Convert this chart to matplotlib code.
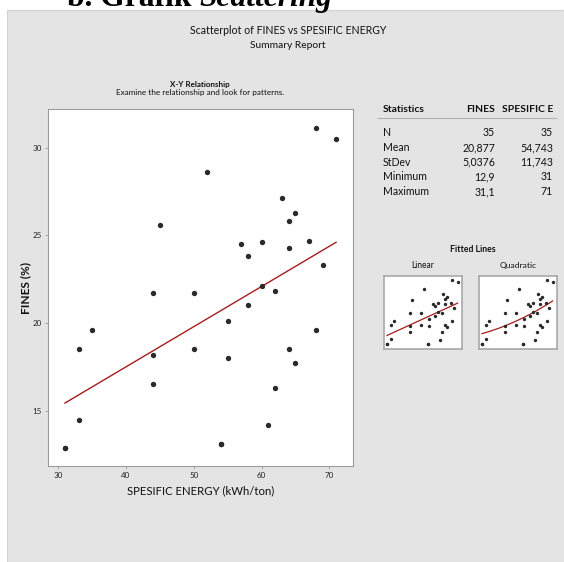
import numpy as np
import matplotlib
matplotlib.use("Agg")
import matplotlib.pyplot as plt
from matplotlib.patches import Rectangle
from matplotlib.lines import Line2D

# data: specific energy (kWh/ton) and fines (%) for 35 samples
energy = [68, 71, 52, 45, 63, 65, 64, 57, 60, 58, 64, 67, 69, 44, 50, 60, 62, 58, 55,
          35, 33, 44, 50, 55, 44, 33, 31, 54, 61, 62, 64, 65, 68, 31, 54]
fines = [31.1, 30.5, 28.6, 25.6, 27.1, 26.3, 25.8, 24.5, 24.6, 23.8, 24.3, 24.7, 23.3, 21.7, 21.7, 22.1, 21.8, 21.0, 20.1,
         19.6, 18.5, 18.2, 18.5, 18.0, 16.5, 14.5, 12.9, 13.1, 14.2, 16.3, 18.5, 17.7, 19.6, 12.9, 13.1]

x_ticks = [30, 40, 50, 60, 70]
y_ticks = [15, 20, 25, 30]
stat_rows = ["N", "Mean", "StDev", "Minimum", "Maximum"]
stat_cols = ["FINES", "SPESIFIC E"]

W, H = 564, 562
plt.rcParams["font.family"] = ["Lato", "DejaVu Sans"]

PANEL = "#e4e4e4"
DOT = "#2a2a2a"
FIT = "#a51c1c"
EDGE = "#9c9c9c"
INK = "#111111"


def box(x0, y0, x1, y1):
    # pixel box (top-left origin) -> figure rect
    return [x0 / W, 1 - y1 / H, (x1 - x0) / W, (y1 - y0) / H]


def fx(x):
    return x / W


def fy(y):
    return 1 - y / H


x = np.array(energy, dtype=float)
y = np.array(fines, dtype=float)

fig = plt.figure(figsize=(W / 100, H / 100), dpi=100)
fig.patch.set_facecolor("white")
r = fig.canvas.get_renderer()


def put(xp, yp, s, width, **kw):
    # place a text and scale its size so it spans `width` pixels
    t = fig.text(fx(xp), fy(yp), s, fontsize=10, color=INK, **kw)
    w = t.get_window_extent(renderer=r).width
    t.set_fontsize(10 * width / w)
    return t


# grey report panel
fig.patches.append(Rectangle((fx(7), fy(562)), fx(W) - fx(7), fy(10) - fy(562),
                             transform=fig.transFigure, facecolor=PANEL,
                             edgecolor="#d2d2d2", lw=0.8, zorder=-1))

# heading above the panel
t1 = fig.text(fx(67), fy(6), "b. Grafik ", family="Liberation Serif", weight="bold",
              fontsize=22.7, va="baseline", ha="left", zorder=5)
bb = t1.get_window_extent(renderer=r)
fig.text(bb.x1 / W, fy(6), "Scattering", family="Liberation Serif", weight="bold",
         style="italic", fontsize=22.7, va="baseline", ha="left", zorder=5)

put(288, 30, "Scatterplot of FINES vs SPESIFIC ENERGY", 196, ha="center", va="center")
put(288, 45, "Summary Report", 76, ha="center", va="center")
put(200, 85, "X-Y Relationship", 60, ha="center", va="center", weight="bold")
put(200, 93, "Examine the relationship and look for patterns.", 167, ha="center", va="center")

# main scatter
ax = fig.add_axes(box(48, 109, 353, 466))
ax.set_facecolor("white")
ax.scatter(x, y, s=15, color=DOT, zorder=3, linewidths=0)
b1, b0 = np.polyfit(x, y, 1)
xl = np.array([x.min(), x.max()])
ax.plot(xl, b0 + b1 * xl, color=FIT, lw=1.0, zorder=2)
ax.set_xlim(28.5, 73.5)
ax.set_ylim(11.85, 32.2)
ax.set_xticks(x_ticks)
ax.set_yticks(y_ticks)
ax.tick_params(direction="out", length=2.5, width=0.6, color=EDGE, labelsize=5.8,
               labelcolor="#222222", pad=2)
for s in ax.spines.values():
    s.set_color(EDGE)
    s.set_linewidth(0.8)
ax.set_xlabel("SPESIFIC ENERGY (kWh/ton)", fontsize=8.2, color=INK, labelpad=4)
ax.set_ylabel("FINES (%)", fontsize=8.6, weight="bold", color=INK, labelpad=1)

# statistics table
def fmt(v):
    return ("%.5g" % v).replace(".", ",")

cols = [y, x]
vals = [[fmt(len(c)), fmt(c.mean()), fmt(c.std(ddof=1)), fmt(c.min()), fmt(c.max())] for c in cols]
col_right = [495, 553]
head = put(383, 109, "Statistics", 42, weight="bold", va="center").get_fontsize()
for name, cx in zip(stat_cols, col_right):
    fig.text(fx(cx), fy(109), name, fontsize=head, weight="bold", ha="right", va="center", color=INK)
fig.lines.append(Line2D([fx(378), fx(556)], [fy(118), fy(118)], transform=fig.transFigure,
                        color="#b0b0b0", lw=0.8))
body = put(383, 191.5, "Maximum", 46, va="center").get_fontsize()
row_y = [132.7, 147.7, 162.4, 177, 191.5]
for i, (lab, ry) in enumerate(zip(stat_rows, row_y)):
    if lab != "Maximum":
        fig.text(fx(383), fy(ry), lab, fontsize=body, va="center", color=INK)
    for j, cx in enumerate(col_right):
        fig.text(fx(cx), fy(ry), vals[j][i], fontsize=body, ha="right", va="center", color=INK)

# small fitted-line panels
put(473, 249, "Fitted Lines", 46, weight="bold", ha="center", va="center")
xs = np.linspace(x.min(), x.max(), 100)
for deg, title, (x0, x1), wd in [(1, "Linear", (384, 462), 23), (2, "Quadratic", (479, 557), 37)]:
    m = fig.add_axes(box(x0, 276, x1, 349))
    m.set_facecolor("white")
    m.scatter(x, y, s=6, color=DOT, linewidths=0, zorder=3)
    m.plot(xs, np.polyval(np.polyfit(x, y, deg), xs), color=FIT, lw=0.9, zorder=2)
    m.set_xlim(29.3, 73.5)
    m.set_ylim(11.6, 32.3)
    m.set_xticks([])
    m.set_yticks([])
    for s in m.spines.values():
        s.set_color("#a8a8a8")
        s.set_linewidth(1.2)
    put((x0 + x1) / 2, 266, title, wd, ha="center", va="center")

fig.savefig("out.png", dpi=100, facecolor="white")
